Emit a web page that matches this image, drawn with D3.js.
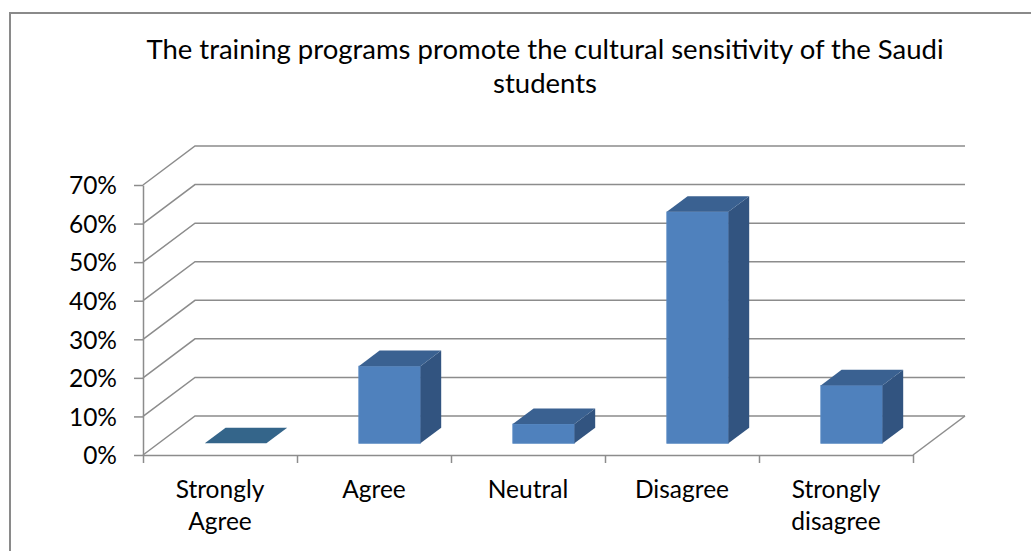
<!DOCTYPE html>
<html>
<head>
<meta charset="utf-8">
<script src="https://cdn.jsdelivr.net/npm/d3@7"></script>
<style>
  body { margin: 0; background: #fff; }
  text { font-family: Lato, "Open Sans", sans-serif; fill: #000; }
</style>
</head>
<body>
<div id="container"></div>
<script>
// data
const categories = ["Strongly Agree", "Agree", "Neutral", "Disagree", "Strongly disagree"];
const labelLines = [["Strongly", "Agree"], ["Agree"], ["Neutral"], ["Disagree"], ["Strongly", "disagree"]];
const values = [0, 0.20, 0.05, 0.60, 0.15];
const yTicks = [0, 0.1, 0.2, 0.3, 0.4, 0.5, 0.6, 0.7];
const titleLines = ["The training programs promote the cultural sensitivity of the Saudi", "students"];

const width = 1031, height = 551;
const plotLeft = 143, plotRight = 913, plotBottom = 455, plotTop = 185;
const depthX = 52, depthY = -39;   // full depth of the 3D box
const barFront = 0.3, barBack = 0.7; // bar position inside the depth
const gridColor = "#8c8c8c";

const svg = d3.select("#container").append("svg")
  .attr("width", width)
  .attr("height", height);

// chart border (only top and left edges are visible)
svg.append("path")
  .attr("d", "M10," + height + "V13H" + width)
  .attr("fill", "none")
  .attr("stroke", "#8a8a8a")
  .attr("stroke-width", 2);

const x = d3.scaleBand().domain(categories).range([plotLeft, plotRight]);
const y = d3.scaleLinear().domain([0, 0.7]).range([plotBottom, plotTop]);
const xEdges = d3.scaleLinear().domain([0, categories.length]).range([plotLeft, plotRight]);

// title
svg.append("g").selectAll("text").data(titleLines)
  .enter().append("text")
  .attr("x", 545)
  .attr("y", (d, i) => 59 + i * 34)
  .attr("text-anchor", "middle")
  .style("font-size", "27.5px")
  .text(d => d);

// side wall + back wall gridlines
svg.append("g").selectAll("path").data(yTicks)
  .enter().append("path")
  .attr("d", d => "M" + plotLeft + "," + y(d) + "L" + (plotLeft + depthX) + "," + (y(d) + depthY) + "H" + (plotRight + depthX))
  .attr("fill", "none")
  .attr("stroke", gridColor)
  .attr("stroke-width", 1.5);

// floor right edge
svg.append("path")
  .attr("d", "M" + plotRight + "," + plotBottom + "L" + (plotRight + depthX) + "," + (plotBottom + depthY))
  .attr("fill", "none")
  .attr("stroke", gridColor)
  .attr("stroke-width", 1.5);

// y axis
const yAxis = svg.append("g")
  .attr("transform", "translate(" + plotLeft + ",0)")
  .call(d3.axisLeft(y).tickValues(yTicks).tickFormat(d3.format(".0%")).tickSize(9).tickSizeOuter(0).tickPadding(17));
yAxis.selectAll("path, line").attr("stroke", gridColor).attr("stroke-width", 1.5);
yAxis.selectAll("text").style("font-size", "24.5px").attr("dy", "0.36em");

// x axis
const xAxis = svg.append("g")
  .attr("transform", "translate(0," + plotBottom + ")")
  .call(d3.axisBottom(xEdges).ticks(categories.length).tickFormat("").tickSize(8).tickSizeOuter(0));
xAxis.selectAll("path, line").attr("stroke", gridColor).attr("stroke-width", 1.5);

const xLabels = svg.append("g").selectAll("text").data(categories)
  .enter().append("text")
  .attr("x", d => x(d) + x.bandwidth() / 2)
  .attr("y", 498)
  .attr("text-anchor", "middle")
  .style("font-size", "24.5px");
xLabels.selectAll("tspan").data((d, i) => labelLines[i])
  .enter().append("tspan")
  .attr("x", function () { return d3.select(this.parentNode).attr("x"); })
  .attr("dy", (d, i) => i ? 32 : 0)
  .text(d => d);

// 3D bars
const barW = x.bandwidth() / 2.5;
const fx = depthX * barFront, fy = depthY * barFront;
const dx = depthX * (barBack - barFront), dy = depthY * (barBack - barFront);

const bars = svg.append("g").selectAll("g").data(categories)
  .enter().append("g");

bars.each(function (c, i) {
  const g = d3.select(this);
  const v = values[i];
  const x0 = x(c) + (x.bandwidth() - barW) / 2 + fx;
  const x1 = x0 + barW;
  const yT = y(v) + fy, yB = y(0) + fy;
  if (v > 0) {
    g.append("rect")
      .attr("x", x0).attr("y", yT)
      .attr("width", barW).attr("height", yB - yT)
      .attr("fill", "#4f81bd")
      .attr("stroke", "#5a8ac4").attr("stroke-width", 0.8);
    g.append("path")
      .attr("d", "M" + x1 + "," + yT + "L" + (x1 + dx) + "," + (yT + dy) + "V" + (yB + dy) + "L" + x1 + "," + yB + "Z")
      .attr("fill", "#325480");
  }
  g.append("path")
    .attr("d", "M" + x0 + "," + yT + "H" + x1 + "L" + (x1 + dx) + "," + (yT + dy) + "H" + (x0 + dx) + "Z")
    .attr("fill", v > 0 ? "#3a6191" : "#34658a");
});
</script>
</body>
</html>
